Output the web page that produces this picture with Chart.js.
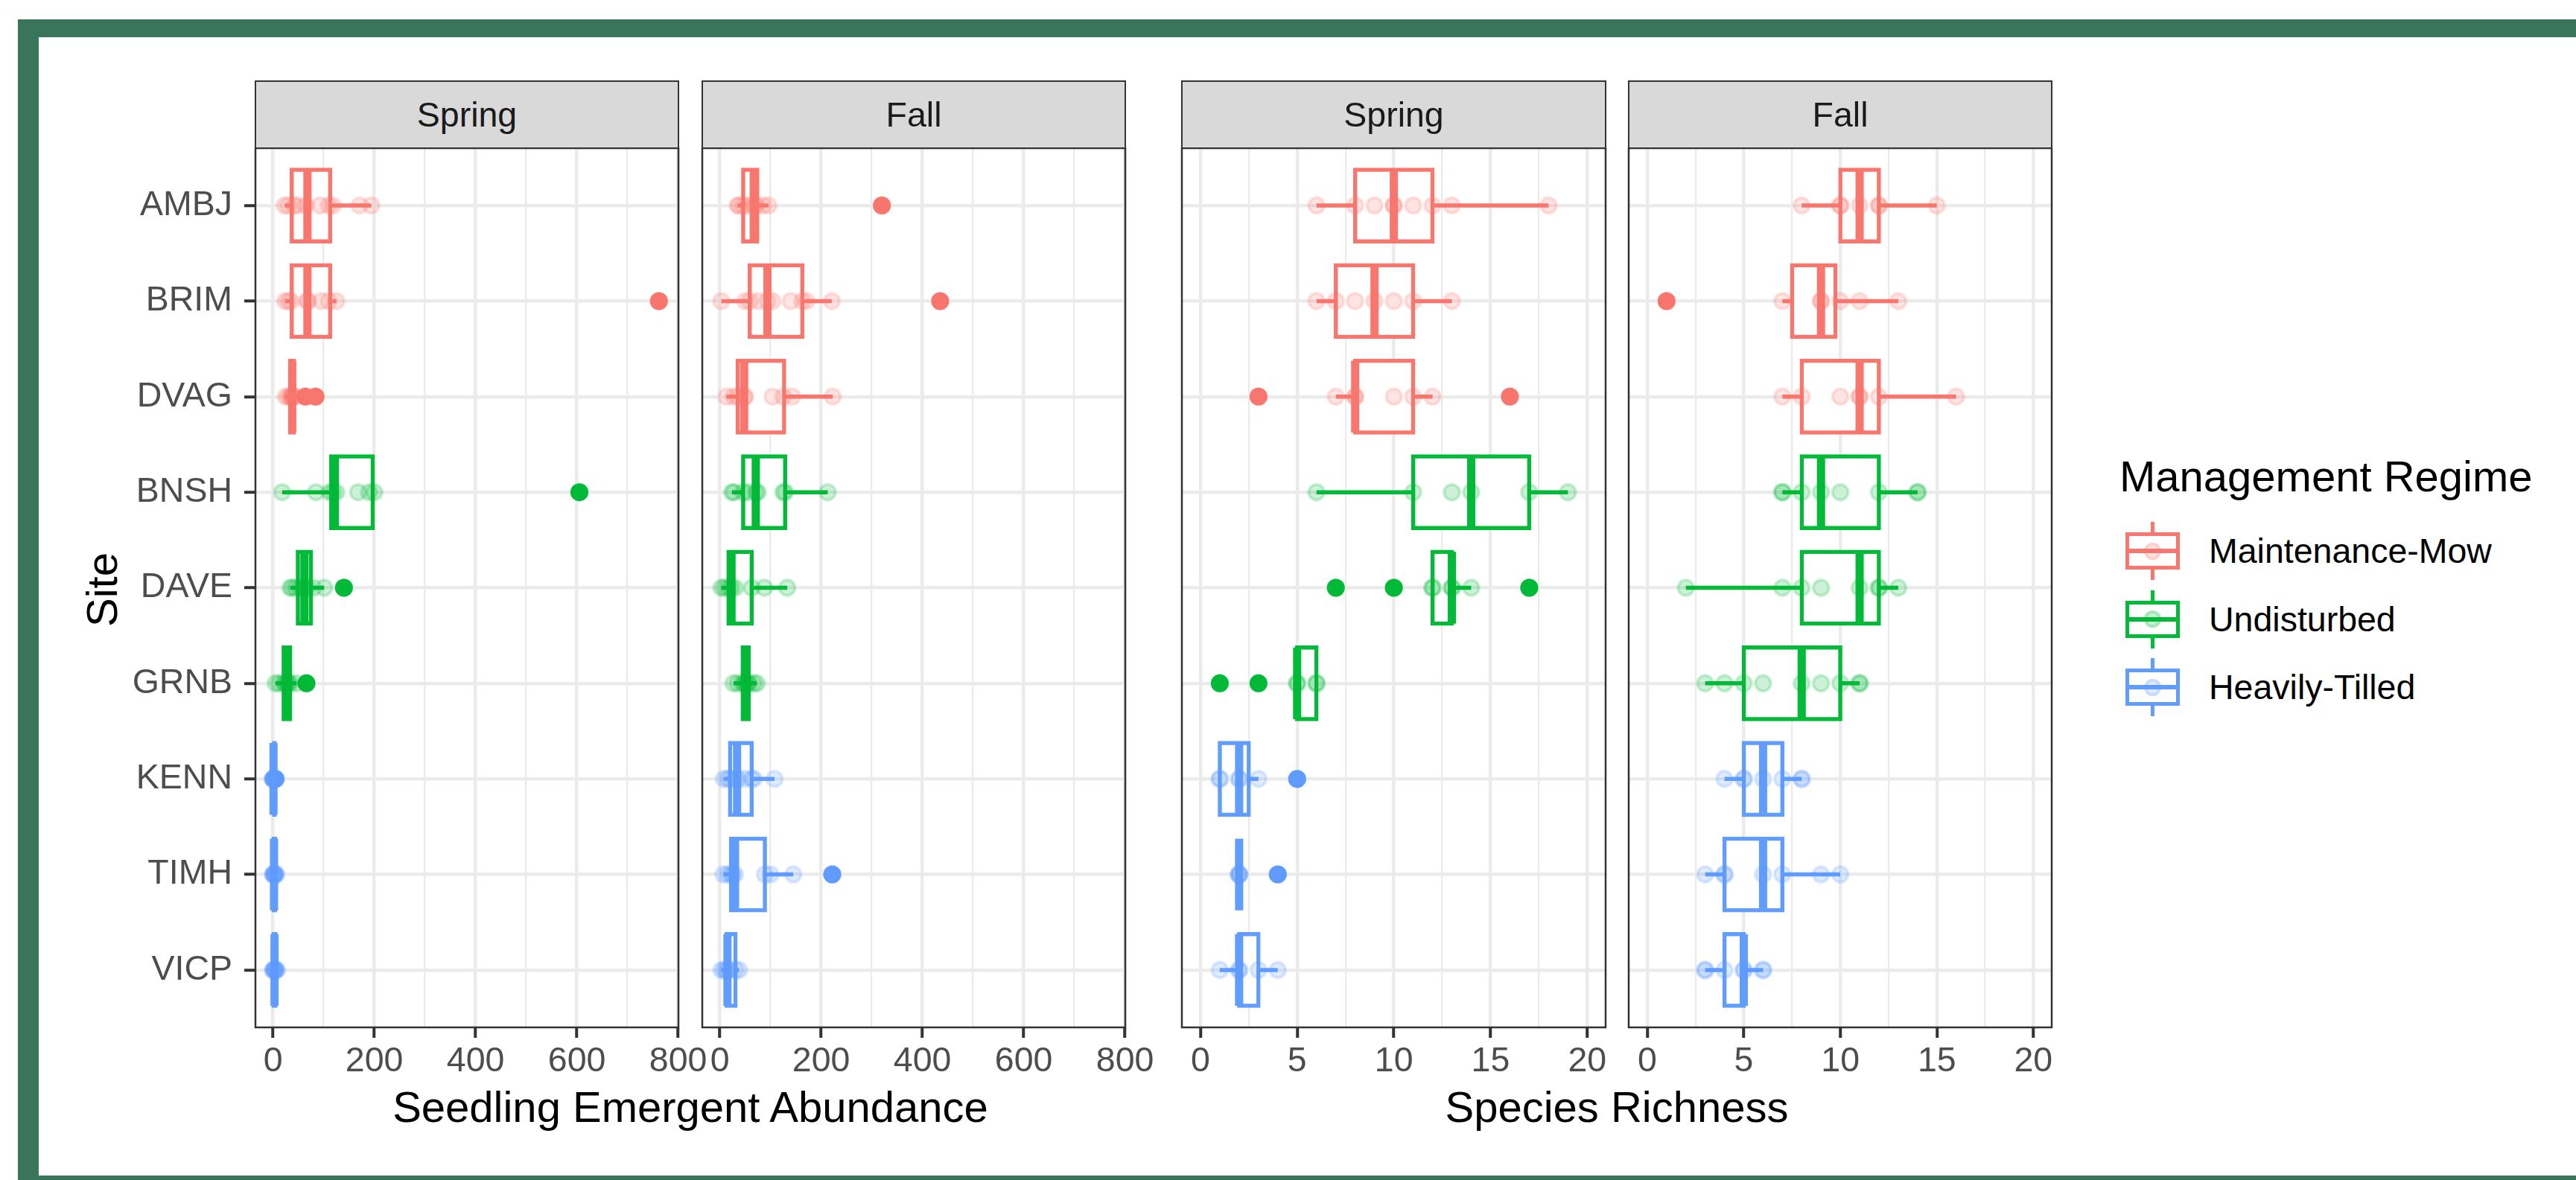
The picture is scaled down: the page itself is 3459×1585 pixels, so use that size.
<!DOCTYPE html>
<html>
<head>
<meta charset="utf-8">
<title>Seedling abundance and species richness by site</title>
<script src="https://cdn.jsdelivr.net/npm/chart.js"></script>
<style>
  html, body { margin: 0; padding: 0; background: #ffffff; }
  body { position: relative; width: 3459px; height: 1585px; overflow: hidden;
         font-family: 'Liberation Sans', Arial, sans-serif; }
  #frame { position: absolute; left: 24px; top: 26px; width: 3600px; height: 1700px; background: #38755b; }
  #sheet { position: absolute; left: 52px; top: 50px; width: 3600px; height: 1529px; background: #ffffff; }
  canvas { position: absolute; }
  .strip { position: absolute; box-sizing: border-box; background: #d9d9d9; border: 2.5px solid #333333;
           color: #1a1a1a; font-size: 46.5px; display: flex; align-items: center; justify-content: center; }
  .axis-title { position: absolute; font-size: 58px; color: #000000; white-space: nowrap;
                height: 70px; line-height: 70px; transform: translate(-50%, -50%); }
  .legend-title { position: absolute; font-size: 58px; color: #000000; white-space: nowrap; height: 70px; line-height: 70px; }
  .legend-label { position: absolute; font-size: 46.5px; color: #000000; white-space: nowrap; height: 56px; line-height: 56px; }
  .key { position: absolute; width: 73px; height: 78px; }
  .key div { position: absolute; box-sizing: border-box; }
</style>
</head>
<body>
<div id="frame"></div>
<div id="sheet"></div>
<canvas id="p1"></canvas>
<canvas id="p2"></canvas>
<canvas id="p3"></canvas>
<canvas id="p4"></canvas>
<div id="overlay"></div>
<script>
// sites top to bottom, and the management regime each belongs to
const sites = ['AMBJ', 'BRIM', 'DVAG', 'BNSH', 'DAVE', 'GRNB', 'KENN', 'TIMH', 'VICP'];
const siteRegime = [0, 0, 0, 1, 1, 1, 2, 2, 2];
const regimes = ['Maintenance-Mow', 'Undisturbed', 'Heavily-Tilled'];
const seasons = ['Spring', 'Fall', 'Spring', 'Fall'];

// box stats per site: [lower whisker, Q1, median, Q3, upper whisker]
const abundSpringStats = [
  [23, 37, 68, 113, 194], [24, 37, 68, 113, 125], [25, 34, 38, 41, 42],
  [18, 115, 122, 197, 200], [34, 49, 62, 75, 101], [5, 21, 27, 34, 46],
  [0, 0, 1, 2, 3], [0, 1, 2, 4, 6], [0, 1, 3, 5, 8]
];
const abundSpringPoints = [
  [23, 30, 42, 47, 65, 93, 110, 118, 171, 194], [24, 30, 36, 67, 70, 95, 110, 125],
  [25, 30, 35, 37, 38, 40, 41, 42], [18, 85, 112, 118, 125, 168, 190, 200],
  [34, 38, 45, 55, 62, 68, 80, 101], [5, 12, 21, 25, 28, 30, 34, 46],
  [0, 0, 0, 1, 1, 2, 2, 3], [0, 1, 1, 2, 3, 4, 5, 6], [0, 1, 1, 3, 4, 5, 6, 8]
];
const abundSpringOutliers = [[], [762], [64, 84], [605], [140], [66], [5], [], []];

const abundFallStats = [
  [35, 46, 67, 74, 96], [3, 59, 94, 163, 221], [13, 35, 48, 127, 223],
  [24, 46, 71, 129, 213], [3, 17, 23, 63, 133], [27, 45, 51, 57, 73],
  [8, 20, 34, 63, 108], [7, 22, 30, 89, 145], [3, 13, 15, 31, 38]
];
const abundFallPoints = [
  [35, 38, 46, 55, 67, 72, 85, 96], [3, 50, 59, 76, 94, 104, 140, 163, 171, 221],
  [13, 27, 35, 48, 50, 104, 125, 143, 223], [24, 28, 46, 55, 71, 75, 125, 129, 213],
  [3, 9, 17, 23, 30, 63, 88, 133], [27, 35, 45, 49, 51, 55, 57, 67, 73],
  [8, 15, 20, 30, 35, 49, 63, 67, 108], [7, 15, 22, 25, 30, 89, 100, 145],
  [3, 8, 13, 15, 20, 31, 38]
];
const abundFallOutliers = [[320], [435], [], [], [], [], [], [222], []];

const richSpringStats = [
  [6, 8, 10, 12, 18], [6, 7, 9, 11, 13], [7, 8, 8, 11, 12],
  [6, 11, 14, 17, 19], [12, 12, 13, 13, 14], [5, 5, 5, 6, 6],
  [1, 1, 2, 2.5, 3], [2, 2, 2, 2, 2], [1, 2, 2, 3, 4]
];
const richSpringPoints = [
  [6, 8, 9, 10, 10, 11, 12, 13, 18], [6, 7, 8, 9, 10, 11, 13], [7, 8, 8, 10, 11, 12],
  [6, 11, 13, 14, 17, 19], [12, 12, 13, 13, 14], [5, 5, 6, 6],
  [1, 1, 2, 2, 3], [2, 2, 2, 2], [1, 2, 2, 3, 4]
];
const richSpringOutliers = [[], [], [3, 16], [], [7, 10, 17], [1, 3], [5], [4], []];

const richFallStats = [
  [8, 10, 11, 12, 15], [7, 7.5, 9, 9.75, 13], [7, 8, 11, 12, 16],
  [7, 8, 9, 12, 14], [2, 8, 11, 12, 13], [3, 5, 8, 10, 11],
  [4, 5, 6, 7, 8], [3, 4, 6, 7, 10], [3, 4, 5, 5, 6]
];
const richFallPoints = [
  [8, 10, 10, 11, 12, 12, 15], [7, 9, 9, 10, 11, 13], [7, 8, 10, 11, 11, 12, 16],
  [7, 7, 8, 9, 10, 12, 14, 14], [2, 7, 8, 9, 11, 12, 12, 13], [3, 4, 5, 6, 8, 9, 10, 11, 11],
  [4, 5, 5, 6, 7, 8, 8], [3, 4, 4, 6, 7, 9, 10], [3, 3, 4, 5, 5, 6, 6]
];
const richFallOutliers = [[], [1], [], [], [], [], [], [], []];

// axis ticks and limits
const abundTicks = [0, 200, 400, 600, 800];
const abundMinorTicks = [100, 300, 500, 700];
const abundLimits = [-34.7, 800.6];
const richTicks = [0, 5, 10, 15, 20];
const richMinorTicks = [2.5, 7.5, 12.5, 17.5];
const richLimits = [-0.96, 20.95];

// styling
const regimeColors = ['#F8766D', '#00BA38', '#619CFF'];
const regimeFaint = ['rgba(248,118,109,0.2)', 'rgba(0,186,56,0.2)', 'rgba(97,156,255,0.2)'];
const PANEL_TOP = 199;
const PANEL_BOTTOM = 1380;
const TOP_SPACE = 50;
const AXIS_SPACE = 90;
const RIGHT_SPACE = 60;
const BOX_HALF = 0.375;

Chart.defaults.font.family = "'Liberation Sans', Arial, sans-serif";

const panelBorder = {
  id: 'panelBorder',
  afterDatasetsDraw(chart) {
    const { ctx, chartArea: a } = chart;
    ctx.save();
    ctx.strokeStyle = '#333333';
    ctx.lineWidth = 2.5;
    ctx.strokeRect(a.left, a.top, a.right - a.left, a.bottom - a.top);
    ctx.restore();
  }
};

const panels = [
  { id: 'p1', left: 343, right: 911, stats: abundSpringStats, points: abundSpringPoints, outliers: abundSpringOutliers,
    limits: abundLimits, majors: abundTicks, minors: abundMinorTicks, showSites: true },
  { id: 'p2', left: 943, right: 1511, stats: abundFallStats, points: abundFallPoints, outliers: abundFallOutliers,
    limits: abundLimits, majors: abundTicks, minors: abundMinorTicks, showSites: false },
  { id: 'p3', left: 1587, right: 2156, stats: richSpringStats, points: richSpringPoints, outliers: richSpringOutliers,
    limits: richLimits, majors: richTicks, minors: richMinorTicks, showSites: false },
  { id: 'p4', left: 2187, right: 2755, stats: richFallStats, points: richFallPoints, outliers: richFallOutliers,
    limits: richLimits, majors: richTicks, minors: richMinorTicks, showSites: false }
];

// rows for one regime, with a gap between sites
function regimeRows(stats, r, makeRow) {
  return stats.flatMap((s, i) => siteRegime[i] === r ? [...makeRow(s, i), { x: null, y: null }] : []);
}

function buildPanel(spec) {
  const canvas = document.getElementById(spec.id);
  const leftSpace = spec.showSites ? 200 : 50;
  const w = leftSpace + (spec.right - spec.left) + RIGHT_SPACE;
  const h = TOP_SPACE + (PANEL_BOTTOM - PANEL_TOP) + AXIS_SPACE;
  canvas.width = w;
  canvas.height = h;
  canvas.style.left = (spec.left - leftSpace) + 'px';
  canvas.style.top = (PANEL_TOP - TOP_SPACE) + 'px';

  const datasets = [];
  regimes.forEach((name, r) => {
    // whiskers
    datasets.push({
      type: 'line', order: 6, label: name + ' whisker',
      data: regimeRows(spec.stats, r, (s, i) => [{ x: s[0], y: i }, { x: s[4], y: i }]),
      borderColor: regimeColors[r], borderWidth: 5.5, borderCapStyle: 'butt',
      pointRadius: 0, spanGaps: false, fill: false
    });
    // medians
    datasets.push({
      type: 'line', order: 4, label: name + ' median',
      data: regimeRows(spec.stats, r, (s, i) => [{ x: s[2], y: i - BOX_HALF }, { x: s[2], y: i + BOX_HALF }]),
      borderColor: regimeColors[r], borderWidth: 11, borderCapStyle: 'butt',
      pointRadius: 0, spanGaps: false, fill: false
    });
  });

  // boxes Q1..Q3
  datasets.push({
    type: 'bar', order: 5, indexAxis: 'y', label: 'box',
    data: spec.stats.map((s, i) => ({ x: [s[1], s[3]], y: i })),
    backgroundColor: '#ffffff',
    borderColor: siteRegime.map(r => regimeColors[r]),
    borderWidth: 5.5, borderSkipped: false, inflateAmount: 2.75,
    categoryPercentage: 1, barPercentage: 0.75
  });

  // outliers
  const outs = [], outColors = [];
  spec.outliers.forEach((vals, i) => vals.forEach(v => {
    outs.push({ x: v, y: i });
    outColors.push(regimeColors[siteRegime[i]]);
  }));
  datasets.push({
    type: 'scatter', order: 3, label: 'outliers', data: outs,
    pointRadius: 12, pointBorderWidth: 0,
    pointBackgroundColor: outColors, pointBorderColor: outColors
  });

  // every observation, faint
  const pts = [], ptColors = [];
  spec.points.forEach((vals, i) => vals.concat(spec.outliers[i]).forEach(v => {
    pts.push({ x: v, y: i });
    ptColors.push(regimeFaint[siteRegime[i]]);
  }));
  datasets.push({
    type: 'scatter', order: 2, label: 'observations', data: pts,
    pointRadius: 10.5, pointBorderWidth: 4,
    pointBackgroundColor: ptColors, pointBorderColor: ptColors
  });

  const majors = spec.majors;
  const isMajor = c => c.tick && majors.includes(c.tick.value);

  new Chart(canvas, {
    type: 'scatter',
    data: { datasets },
    options: {
      responsive: false,
      animation: false,
      events: [],
      layout: { padding: { left: 0, right: RIGHT_SPACE, top: TOP_SPACE, bottom: 0 } },
      plugins: { legend: { display: false }, tooltip: { enabled: false } },
      scales: {
        x: {
          type: 'linear', min: spec.limits[0], max: spec.limits[1], offset: false,
          border: { display: false },
          afterBuildTicks: s => {
            s.ticks = majors.concat(spec.minors).sort((a, b) => a - b).map(v => ({ value: v }));
          },
          afterFit: s => { s.height = AXIS_SPACE; },
          grid: {
            color: '#EBEBEB', offset: false,
            lineWidth: c => isMajor(c) ? 4.5 : 2.25,
            drawTicks: true, tickLength: 14, tickWidth: 4,
            tickColor: c => isMajor(c) ? '#333333' : 'rgba(0,0,0,0)'
          },
          ticks: {
            autoSkip: false, maxRotation: 0, minRotation: 0, padding: 4,
            color: '#4D4D4D', font: { size: 46.5 },
            callback: v => majors.includes(v) ? String(v) : ''
          }
        },
        y: {
          type: 'linear', reverse: true, min: -0.6, max: sites.length - 0.4, offset: false,
          border: { display: false },
          afterBuildTicks: s => { s.ticks = sites.map((_, i) => ({ value: i })); },
          afterFit: s => { s.width = leftSpace; },
          grid: {
            color: '#EBEBEB', offset: false, lineWidth: 4.5,
            drawTicks: spec.showSites, tickLength: 15, tickWidth: 4, tickColor: '#333333'
          },
          ticks: {
            display: spec.showSites, padding: 16, color: '#4D4D4D', font: { size: 46.5 },
            callback: v => sites[v]
          }
        }
      }
    },
    plugins: [panelBorder]
  });
}

panels.forEach(buildPanel);

// strips, axis titles and legend
const overlay = document.getElementById('overlay');
function addDiv(cls, text, style) {
  const d = document.createElement('div');
  d.className = cls;
  if (text) d.textContent = text;
  Object.assign(d.style, style);
  overlay.appendChild(d);
  return d;
}

panels.forEach((p, k) => {
  addDiv('strip', seasons[k], {
    left: (p.left - 1.25) + 'px', top: '108px',
    width: (p.right - p.left + 2.5) + 'px', height: (PANEL_TOP - 108 + 1.25) + 'px'
  });
});

addDiv('axis-title', 'Seedling Emergent Abundance', { left: '927px', top: '1487px' });
addDiv('axis-title', 'Species Richness', { left: '2171px', top: '1487px' });
addDiv('axis-title', 'Site', { left: '137px', top: '792px', transform: 'translate(-50%, -50%) rotate(-90deg)' });

addDiv('legend-title', 'Management Regime', { left: '2846px', top: (640 - 35) + 'px' });
const keyRows = [740, 831.5, 923];
regimes.forEach((name, r) => {
  const cy = keyRows[r];
  addDiv('legend-label', name, { left: '2966px', top: (cy - 28) + 'px' });
  const key = addDiv('key', '', { left: '2854px', top: (cy - 39) + 'px' });
  const c = regimeColors[r];
  const parts = [
    { left: '33.75px', top: '0px', width: '5.5px', height: '16px', background: c },
    { left: '33.75px', top: '62px', width: '5.5px', height: '16px', background: c },
    { left: '0px', top: '14px', width: '73px', height: '50px', border: '5.5px solid ' + c, background: '#ffffff' },
    { left: '0px', top: '36px', width: '73px', height: '6px', background: c },
    { left: '25px', top: '27.5px', width: '23px', height: '23px', borderRadius: '50%',
      background: regimeFaint[r], border: '4px solid ' + regimeFaint[r] }
  ];
  parts.forEach(st => {
    const d = document.createElement('div');
    Object.assign(d.style, st);
    key.appendChild(d);
  });
});
</script>
</body>
</html>
